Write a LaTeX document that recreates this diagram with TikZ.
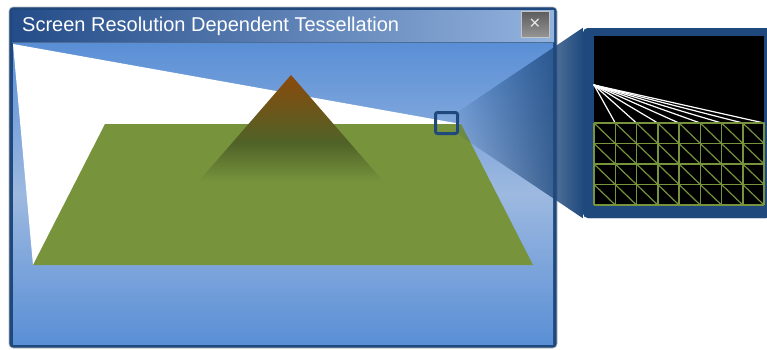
\documentclass[tikz,border=0pt]{standalone}
\usepackage{fontspec}
\setmainfont{Liberation Sans}
\usetikzlibrary{fadings}

\definecolor{frameblue}{HTML}{1F497D}
\definecolor{titleleft}{HTML}{244C88}
\definecolor{titleright}{HTML}{93B3DF}
\definecolor{skytop}{HTML}{5A8FD6}
\definecolor{skymid}{HTML}{9DB9E0}
\definecolor{plane}{HTML}{77933C}
\definecolor{olive}{HTML}{4F6228}
\definecolor{peak}{HTML}{8B4A0C}
\definecolor{btntop}{HTML}{5C5C5C}
\definecolor{btnbot}{HTML}{959595}

% pyramid: plane green at the base, dark olive band, brown apex
\pgfdeclareverticalshading{pyramidshade}{100bp}{%
  color(0bp)=(plane); color(28bp)=(plane); color(45bp)=(olive);
  color(75bp)=(peak); color(100bp)=(peak)}

% callout wedge: nearly clear at the lens, opaque at the panel
\tikzfading[name=wedgefade, left color=transparent!92, right color=transparent!0]

\tikzset{
  frame/.style={draw=gray!55, line width=0.6pt, fill=frameblue, rounded corners=4pt},
  lensbox/.style={draw=frameblue, line width=3pt, rounded corners=2pt,
    minimum width=22pt, minimum height=21pt, inner sep=0pt},
  panelbox/.style={fill=frameblue, rounded corners=5pt, inner sep=0pt,
    minimum width=188pt, minimum height=190pt},
  meshline/.style={draw=plane, line width=1.5pt},
  rayline/.style={draw=white, line width=1.2pt, line cap=round},
}

\begin{document}
\begin{tikzpicture}[x=1pt,y=-1pt]
\useasboundingbox (0,0) rectangle (767,349);

% ---- application window ----
\fill[frame] (9,7) rectangle (557,348);
\shade[left color=titleleft, right color=titleright] (12,10) rectangle (554,41);
\node[anchor=base west, text=white, font=\fontsize{20}{22}\selectfont, inner sep=0pt]
  (title) at (22,31.5) {Screen Resolution Dependent Tessellation};

% close button
\node[minimum width=28pt, minimum height=26pt, inner sep=0pt,
  top color=btntop, bottom color=btnbot, draw=gray!45, line width=0.5pt]
  (closebtn) at (535,24) {};
\node[text=white!92!black, font=\fontsize{19}{19}\selectfont, inner sep=0pt]
  (closex) at ([yshift=-0.5pt]closebtn.center) {×};

% client area with sky gradient
\shade[top color=skytop, bottom color=skytop, middle color=skymid] (13,43) rectangle (553,344);
\draw[frameblue!80!white, line width=1pt] (12,42) -- (554,42);

% view frustum seen from above
\fill[white] (13,44) -- (461,124) -- (33,265) -- cycle;

% ground plane
\fill[plane] (105,124) -- (461,124) -- (533,265) -- (33,265) -- cycle;

% mountain
\shade[shading=pyramidshade] (291,75) -- (389,188) -- (193,188) -- cycle;

% magnifier lens
\node[lensbox] (lens) at (446.5,123) {};

% ---- zoomed panel ----
\node[panelbox] (panel) at (677,123) {};
\fill[frameblue, path fading=wedgefade]
  (lens.north east) -- (panel.north west) -- (panel.south west) -- (lens.south east) -- cycle;
\node[panelbox] (panelface) at (panel.center) {};
\fill[black] (594,36) rectangle (764,205);

% rays from the eye point to the mesh edge
\coordinate (eye) at (594,85);
\foreach \k in {1,...,8}
  \draw[rayline] (eye) -- (594+21.25*\k,123);

% tessellated grid: 8 x 4 cells, each split by a diagonal
\foreach \k in {0,...,8}
  \draw[meshline] (594+21.25*\k,123) -- (594+21.25*\k,205);
\foreach \j in {0,...,4}
  \draw[meshline] (594,123+20.5*\j) -- (764,123+20.5*\j);
\foreach \k in {0,...,7}
  \foreach \j in {0,...,3}
    \draw[meshline, line width=1.2pt]
      (594+21.25*\k,123+20.5*\j) -- (594+21.25*\k+21.25,123+20.5*\j+20.5);
\end{tikzpicture}
\end{document}
